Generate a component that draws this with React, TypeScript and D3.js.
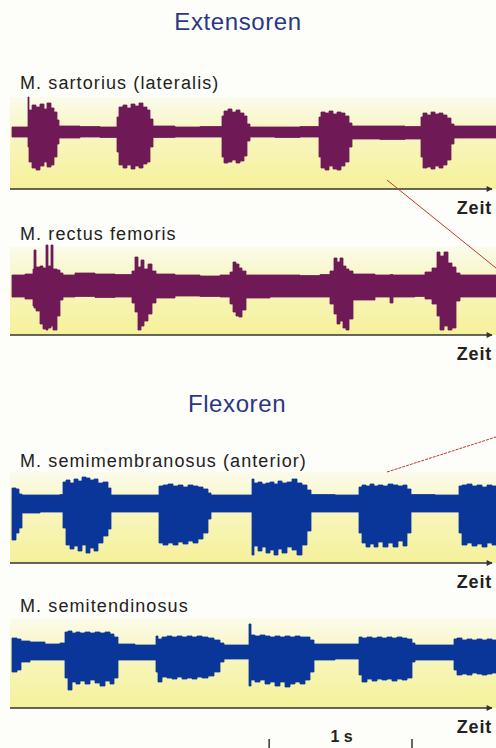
import React from 'react';
import * as d3 from 'd3';

// EMG envelopes: [time ms, upper µV, lower µV]
const sartorius: [number, number, number][] = [
  [0, 50, -50], [112, 350, -150], [119, 220, -300], [140, 270, -360], [168, 250, -380],
  [196, 280, -340], [224, 230, -300], [245, 290, -350], [273, 240, -330], [294, 200, -250],
  [315, 120, -120], [329, 60, -60], [476, 55, -50], [616, 50, -55],
  [735, 150, -200], [749, 250, -330], [777, 270, -360], [805, 240, -330], [833, 280, -370],
  [861, 260, -340], [889, 290, -360], [917, 250, -320], [945, 220, -300], [966, 130, -150],
  [987, 60, -55], [1141, 50, -50], [1316, 55, -50],
  [1470, 160, -250], [1484, 210, -310], [1512, 230, -300], [1540, 200, -280], [1568, 220, -310],
  [1596, 190, -290], [1624, 160, -240], [1645, 80, -90], [1666, 50, -50], [1841, 50, -55],
  [2016, 55, -50],
  [2149, 150, -250], [2163, 200, -360], [2191, 190, -380], [2219, 210, -340], [2247, 180, -370],
  [2275, 200, -380], [2303, 190, -340], [2331, 160, -300], [2359, 90, -150], [2380, 60, -70],
  [2576, 60, -75], [2751, 55, -70],
  [2863, 150, -250], [2877, 190, -360], [2905, 170, -350], [2933, 200, -370], [2961, 180, -340],
  [2989, 190, -360], [3017, 170, -330], [3045, 140, -280], [3073, 80, -120], [3094, 60, -60],
  [3388, 55, -55],
];

const rectusFemoris: [number, number, number][] = [
  [0, 110, -110], [91, 120, -130], [147, 170, -200], [154, 360, -220], [168, 190, -250],
  [196, 200, -380], [217, 180, -430], [238, 410, -440], [252, 200, -420], [273, 410, -400],
  [287, 170, -440], [315, 160, -300], [336, 130, -140], [357, 110, -110],
  [441, 130, -105], [581, 120, -115], [721, 115, -110],
  [840, 150, -170], [861, 290, -260], [882, 190, -440], [903, 260, -400], [924, 170, -350],
  [952, 220, -280], [980, 150, -170], [1008, 120, -120],
  [1141, 110, -100], [1316, 100, -105], [1456, 110, -110],
  [1526, 140, -180], [1547, 240, -260], [1568, 220, -300], [1589, 180, -310], [1610, 150, -240],
  [1638, 110, -120], [1806, 110, -110], [2016, 105, -110], [2156, 115, -110],
  [2226, 150, -180], [2254, 280, -280], [2275, 240, -380], [2296, 280, -350], [2317, 200, -420],
  [2338, 170, -440], [2359, 150, -330], [2387, 120, -140],
  [2541, 110, -110], [2646, 115, -170], [2667, 110, -110], [2821, 110, -105],
  [2891, 140, -130], [2940, 180, -180], [2975, 340, -300], [2996, 300, -440], [3024, 340, -400],
  [3052, 230, -440], [3080, 190, -420], [3108, 130, -150], [3136, 110, -110], [3388, 110, -110],
];

const semimembranosus: [number, number, number][] = [
  [0, 150, -370], [28, 140, -300], [49, 90, -250], [70, 80, -100], [196, 80, -90], [336, 85, -90],
  [357, 210, -250], [378, 230, -420], [406, 200, -460], [434, 240, -430], [462, 220, -480],
  [490, 260, -420], [518, 250, -500], [546, 230, -450], [574, 240, -480], [602, 200, -400],
  [637, 210, -330], [672, 150, -260], [693, 80, -90], [861, 80, -90],
  [1029, 170, -400], [1057, 180, -420], [1092, 190, -400], [1127, 170, -420], [1162, 180, -390],
  [1197, 160, -410], [1232, 180, -380], [1267, 170, -400], [1302, 160, -360], [1337, 140, -300],
  [1372, 100, -160], [1393, 80, -90], [1526, 80, -90],
  [1680, 240, -520], [1694, 200, -430], [1722, 210, -480], [1750, 190, -440], [1778, 200, -500],
  [1806, 210, -470], [1834, 190, -520], [1862, 220, -460], [1890, 200, -500], [1925, 210, -440],
  [1960, 240, -470], [1995, 200, -520], [2030, 180, -420], [2065, 130, -280], [2093, 85, -90],
  [2261, 80, -90],
  [2429, 160, -300], [2450, 180, -400], [2478, 170, -440], [2506, 190, -410], [2534, 170, -440],
  [2562, 180, -390], [2597, 170, -440], [2632, 190, -400], [2667, 180, -440], [2702, 170, -380],
  [2737, 180, -430], [2765, 140, -300], [2793, 85, -90], [2961, 80, -90],
  [3129, 170, -300], [3150, 180, -420], [3185, 190, -400], [3220, 170, -430], [3255, 180, -410],
  [3290, 160, -440], [3325, 180, -400], [3360, 170, -420], [3388, 170, -420],
];

const semitendinosus: [number, number, number][] = [
  [0, 140, -200], [35, 130, -180], [63, 110, -100], [126, 100, -80], [231, 80, -80], [336, 90, -80],
  [371, 200, -260], [392, 210, -380], [420, 190, -300], [448, 200, -320], [476, 190, -290],
  [511, 200, -320], [546, 190, -280], [581, 200, -310], [616, 190, -340], [651, 200, -290],
  [686, 180, -320], [714, 150, -260], [742, 80, -80], [861, 70, -80],
  [1008, 160, -200], [1022, 130, -300], [1050, 150, -250], [1085, 160, -260], [1120, 150, -270],
  [1155, 160, -250], [1190, 150, -270], [1225, 160, -260], [1260, 150, -270], [1295, 160, -250],
  [1330, 150, -260], [1372, 140, -240], [1414, 120, -200], [1456, 90, -100], [1484, 70, -70],
  [1596, 70, -70],
  [1659, 280, -340], [1673, 170, -280], [1701, 160, -300], [1736, 170, -280], [1771, 160, -320],
  [1806, 150, -300], [1841, 160, -340], [1876, 150, -300], [1911, 160, -350], [1946, 150, -320],
  [1981, 160, -300], [2016, 150, -320], [2051, 150, -280], [2086, 120, -200], [2114, 80, -80],
  [2261, 80, -70],
  [2429, 150, -230], [2450, 140, -300], [2485, 150, -270], [2520, 140, -290], [2555, 150, -270],
  [2590, 140, -280], [2625, 150, -270], [2660, 140, -290], [2695, 150, -270], [2730, 140, -280],
  [2765, 130, -260], [2800, 90, -100], [2821, 70, -80], [2961, 70, -80],
  [3094, 130, -180], [3115, 140, -230], [3150, 120, -220], [3185, 130, -230], [3220, 120, -210],
  [3255, 130, -220], [3290, 120, -230], [3325, 130, -220], [3360, 120, -210], [3388, 120, -210],
];

const groupTitles = ['Extensoren', 'Flexoren'];
const muscleLabels = [
  'M. sartorius (lateralis)',
  'M. rectus femoris',
  'M. semimembranosus (anterior)',
  'M. semitendinosus',
];
const timeLabel = 'Zeit';
const scaleBarTicks = [1800, 2800];
const scaleBarLabel = '1 s';

const W = 496;
const H = 748;
const PURPLE = '#6f1a57';
const BLUE = '#0b3699';

const x = d3.scaleLinear().domain([0, 3388]).range([12, 496]);

const panels = [
  { data: sartorius, label: muscleLabels[0], color: PURPLE, center: 132, top: 97, axisY: 189, labelY: 89 },
  { data: rectusFemoris, label: muscleLabels[1], color: PURPLE, center: 286, top: 247, axisY: 335, labelY: 240 },
  { data: semimembranosus, label: muscleLabels[2], color: BLUE, center: 503, top: 472, axisY: 563, labelY: 467 },
  { data: semitendinosus, label: muscleLabels[3], color: BLUE, center: 652, top: 618, axisY: 708, labelY: 612 },
];

export default function App() {
  const font = 'Liberation Sans, Arial, sans-serif';
  return (
    <svg width={W} height={H} style={{ position: 'absolute', left: 0, top: 0 }} fontFamily={font}>
      <defs>
        <linearGradient id="yellow" x1="0" y1="0" x2="0" y2="1">
          <stop offset="0%" stopColor="#fbfbec" />
          <stop offset="35%" stopColor="#f8f6c4" />
          <stop offset="100%" stopColor="#f5f19a" />
        </linearGradient>
        <marker id="arrow" viewBox="0 0 10 10" refX="9" refY="5" markerWidth="5" markerHeight="4" orient="auto">
          <path d="M0,0 L10,5 L0,10 z" fill="#333" />
        </marker>
      </defs>
      <rect width={W} height={H} fill="#fdfdf9" />

      <text x={238} y={30} textAnchor="middle" fontSize={24} fill="#2b3783" letterSpacing={0.6}>
        {groupTitles[0]}
      </text>
      <text x={237} y={412} textAnchor="middle" fontSize={24} fill="#2b3783" letterSpacing={0.6}>
        {groupTitles[1]}
      </text>

      {panels.map((p, i) => {
        const y = d3.scaleLinear().domain([-1000, 1000]).range([p.center + 100, p.center - 100]);
        const area = d3
          .area<[number, number, number]>()
          .x(d => x(d[0]))
          .y0(d => y(d[2]))
          .y1(d => y(d[1]))
          .curve(d3.curveStepAfter);
        return (
          <g key={i}>
            <rect x={10} y={p.top} width={W - 10} height={p.axisY - p.top} fill="url(#yellow)" />
            <text x={20} y={p.labelY} fontSize={18} fill="#222" letterSpacing={1.1}>
              {p.label}
            </text>
            <path d={area(p.data) || ''} fill={p.color} stroke={p.color} strokeWidth={0.8} strokeLinejoin="round" />
            <line x1={10} x2={492} y1={p.axisY} y2={p.axisY} stroke="#333" strokeWidth={1.5} markerEnd="url(#arrow)" />
            <text x={492} y={p.axisY + 25} textAnchor="end" fontSize={18} fontWeight="bold" fill="#222" letterSpacing={0.8}>
              {timeLabel}
            </text>
          </g>
        );
      })}

      <line x1={387} y1={180} x2={496} y2={268} stroke="#c0392b" strokeWidth={1} />
      <line x1={387} y1={472} x2={496} y2={437} stroke="#c0392b" strokeWidth={1} strokeDasharray="3,1" />

      {scaleBarTicks.map(t => (
        <line key={t} x1={x(t)} x2={x(t)} y1={739} y2={748} stroke="#333" strokeWidth={1.5} />
      ))}
      <text x={(x(scaleBarTicks[0]) + x(scaleBarTicks[1])) / 2 + 1} y={742} textAnchor="middle" fontSize={16} fontWeight="bold" fill="#222">
        {scaleBarLabel}
      </text>
    </svg>
  );
}
